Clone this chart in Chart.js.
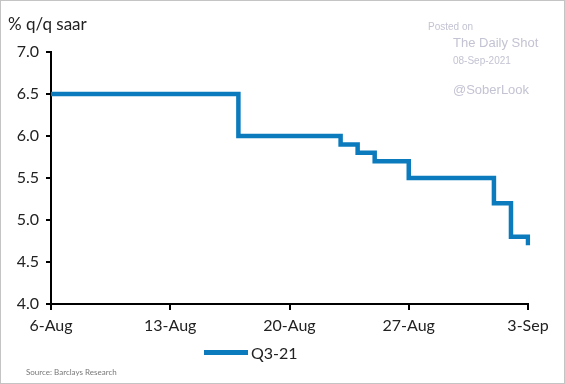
<!DOCTYPE html>
<html>
<head>
<meta charset="utf-8" />
<title>Q3-21 GDP nowcast</title>
<script src="https://cdn.jsdelivr.net/npm/chart.js@4.4.0/dist/chart.umd.min.js"></script>
<style>
    body { margin: 0; background: #fff; }
    #wrap { position: relative; width: 565px; height: 384px; font-family: Lato, sans-serif; }
    #wrap canvas { position: absolute; left: 0; top: 0; }
    #frame { position: absolute; left: 0; top: 0; width: 563px; height: 382px; border: 1px solid #c4c4c4; pointer-events: none; }
    #yTitle { position: absolute; left: 8px; top: 13px; font-size: 17px; color: #222; }
    .wm { position: absolute; color: #c3c3d3; font-family: "Liberation Sans", Arial, sans-serif; white-space: nowrap; }
    #source { position: absolute; left: 26px; top: 367px; font-size: 8px; color: #777; }
    #legend { position: absolute; left: 204px; top: 343px; display: flex; align-items: center; font-size: 16px; color: #222; }
    #legend span.swatch { display: inline-block; width: 44px; height: 5px; margin-right: 3px; }
</style>
</head>
<body>
<div id="wrap">
    <canvas id="myChart" width="565" height="384"></canvas>
    <div id="yTitle">% q/q saar</div>
    <div class="wm" style="left:428px;top:21px;font-size:10px;">Posted on</div>
    <div class="wm" style="left:453px;top:35px;font-size:13px;">The Daily Shot</div>
    <div class="wm" style="left:453px;top:55px;font-size:10px;">08-Sep-2021</div>
    <div class="wm" style="left:453px;top:82px;font-size:13px;">@SoberLook</div>
    <div id="legend"></div>
    <div id="source">Source: Barclays Research</div>
    <div id="frame"></div>
</div>

<script>
// one label per day, 6-Aug through 3-Sep
var days = ['6-Aug','7-Aug','8-Aug','9-Aug','10-Aug','11-Aug','12-Aug','13-Aug','14-Aug','15-Aug','16-Aug',
            '17-Aug','18-Aug','19-Aug','20-Aug','21-Aug','22-Aug','23-Aug','24-Aug','25-Aug','26-Aug',
            '27-Aug','28-Aug','29-Aug','30-Aug','31-Aug','1-Sep','2-Sep','3-Sep'];
// nowcast value holding on each day
var q3 = [6.5,6.5,6.5,6.5,6.5,6.5,6.5,6.5,6.5,6.5,6.5,
          6.0,6.0,6.0,6.0,6.0,6.0,5.9,5.8,5.7,5.7,
          5.5,5.5,5.5,5.5,5.5,5.2,4.8,4.7];
var seriesName = 'Q3-21';
var yTicks = [4.0, 4.5, 5.0, 5.5, 6.0, 6.5, 7.0];
var lineColor = '#0b7bbd';

var ctx = document.getElementById('myChart').getContext('2d');
var chart = new Chart(ctx, {
    type: 'line',
    data: {
        labels: days,
        datasets: [{
            label: seriesName,
            data: q3,
            borderColor: lineColor,
            backgroundColor: lineColor,
            borderWidth: 4.5,
            // horizontal first, then drop on the day the value changes
            stepped: 'before',
            pointRadius: 0,
            fill: false
        }]
    },
    options: {
        responsive: false,
        animation: false,
        layout: { padding: { left: 0, right: 37, top: 52, bottom: 40 } },
        plugins: { legend: { display: false }, tooltip: { enabled: false } },
        scales: {
            x: {
                type: 'category',
                offset: false,
                grid: { drawOnChartArea: false, drawTicks: true, tickLength: 6, color: '#000', lineWidth: 2 },
                border: { color: '#000', width: 2 },
                ticks: { autoSkip: false, maxRotation: 0, padding: 6, color: '#222', font: { family: 'Lato', size: 16 } },
                afterBuildTicks: function (axis) {
                    // only weekly labels
                    axis.ticks = axis.ticks.filter(function (t, i) { return i % 7 === 0; });
                },
                afterFit: function (axis) { axis.height = 40; }
            },
            y: {
                min: 4, max: 7,
                grid: { drawOnChartArea: false, drawTicks: true, tickLength: 5, color: '#000', lineWidth: 2 },
                border: { color: '#000', width: 2 },
                ticks: {
                    stepSize: 0.5, padding: 7, color: '#222', font: { family: 'Lato', size: 16 },
                    callback: function (v) { return Number(v).toFixed(1); }
                },
                afterBuildTicks: function (axis) {
                    axis.ticks = yTicks.map(function (v) { return { value: v }; });
                },
                afterFit: function (axis) { axis.width = 51; }
            }
        }
    }
});

// legend built from the chart's dataset
var legend = document.getElementById('legend');
chart.data.datasets.forEach(function (ds) {
    legend.innerHTML += '<span class="swatch" style="background:' + ds.borderColor + '"></span><span>' + ds.label + '</span>';
});
</script>
</body>
</html>
